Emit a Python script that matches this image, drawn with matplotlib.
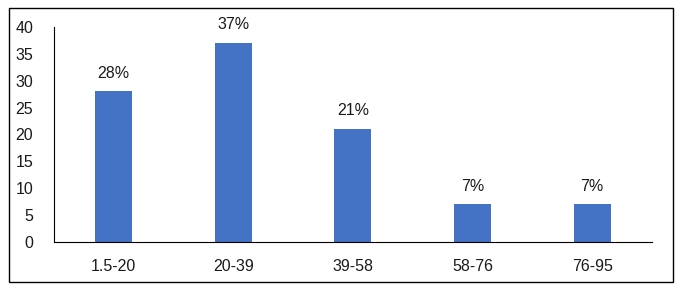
import matplotlib.pyplot as plt
from matplotlib.patches import Rectangle

plt.rcParams['font.family'] = ['Liberation Sans', 'DejaVu Sans']

# data
categories = ['1.5-20', '20-39', '39-58', '58-76', '76-95']
values = [28, 37, 21, 7, 7]
labels = ['28%', '37%', '21%', '7%', '7%']

fig = plt.figure(figsize=(6.82, 2.93), dpi=100)
ax = fig.add_axes([0.079, 0.174, 0.877, 0.734])

bars = ax.bar(categories, values, width=0.31, color='#4472C4')
for b, lab in zip(bars, labels):
    ax.text(b.get_x() + b.get_width() / 2, b.get_height() + 2.0, lab,
            ha='center', va='bottom', fontsize=11.5, color='#1a1a1a')

ax.set_ylim(0, 40)
ax.set_xlim(-0.5, 4.5)
ax.set_yticks(range(0, 41, 5))
ax.tick_params(axis='both', length=0, labelsize=11.5, colors='#1a1a1a')
ax.tick_params(axis='x', pad=12)
ax.tick_params(axis='y', pad=15)
ax.spines['top'].set_visible(False)
ax.spines['right'].set_visible(False)
ax.spines['left'].set_color('black')
ax.spines['bottom'].set_color('black')

# outer frame
fig.patches.append(Rectangle((9 / 682, 1 - 282 / 293), 664 / 682, 274 / 293,
                             transform=fig.transFigure, fill=False,
                             edgecolor='black', linewidth=1))

plt.savefig('out.png', dpi=100)
